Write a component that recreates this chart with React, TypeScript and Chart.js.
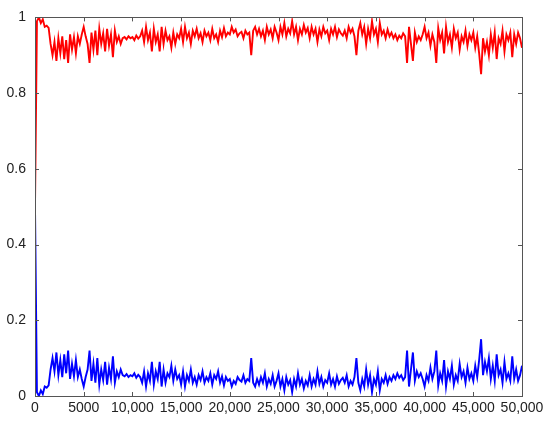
import React, { useEffect, useRef } from "react";
import { Chart, registerables } from "chart.js";

Chart.register(...registerables);

const STEP = 200;

const redValues: number[] = [
  0.5, 0.99, 1.0, 0.985, 0.995, 0.975, 0.978, 0.972, 0.93, 0.9, 0.935, 0.885, 0.945, 0.905, 0.95, 0.89, 0.94, 0.88, 0.955, 0.915, 0.948, 0.905, 0.95, 0.93, 0.955,
  0.975, 0.95, 0.93, 0.88, 0.96, 0.915, 0.965, 0.9, 0.97, 0.93, 0.958, 0.91, 0.97, 0.925, 0.955, 0.895, 0.965, 0.935, 0.95, 0.93, 0.945, 0.948, 0.942, 0.95, 0.945,
  0.948, 0.94, 0.952, 0.944, 0.95, 0.965, 0.935, 0.975, 0.94, 0.96, 0.91, 0.97, 0.935, 0.955, 0.91, 0.975, 0.93, 0.965, 0.94, 0.95, 0.92, 0.96, 0.93, 0.955, 0.945,
  0.97, 0.935, 0.975, 0.945, 0.96, 0.93, 0.965, 0.95, 0.97, 0.945, 0.958, 0.935, 0.965, 0.95, 0.96, 0.94, 0.97, 0.945, 0.955, 0.935, 0.965, 0.948, 0.972, 0.95, 0.96,
  0.955, 0.975, 0.96, 0.968, 0.95, 0.958, 0.962, 0.945, 0.965, 0.955, 0.96, 0.9, 0.965, 0.975, 0.955, 0.97, 0.95, 0.965, 0.94, 0.975, 0.955, 0.968, 0.945, 0.975, 0.96,
  0.94, 0.975, 0.955, 0.985, 0.95, 0.97, 0.958, 0.99, 0.955, 0.975, 0.94, 0.97, 0.955, 0.98, 0.96, 0.972, 0.945, 0.975, 0.955, 0.97, 0.935, 0.968, 0.95, 0.975, 0.958,
  0.965, 0.94, 0.97, 0.955, 0.975, 0.948, 0.968, 0.958, 0.952, 0.965, 0.945, 0.975, 0.96, 0.97, 0.95, 0.9, 0.965, 0.985, 0.955, 0.975, 0.93, 0.97, 0.945, 0.99, 0.955,
  0.97, 0.935, 0.985, 0.955, 0.965, 0.945, 0.968, 0.95, 0.96, 0.945, 0.955, 0.94, 0.952, 0.945, 0.958, 0.95, 0.88, 0.975, 0.93, 0.885, 0.96, 0.935, 0.95, 0.94, 0.955,
  0.975, 0.945, 0.96, 0.925, 0.955, 0.935, 0.88, 0.972, 0.94, 0.96, 0.905, 0.975, 0.935, 0.955, 0.92, 0.97, 0.945, 0.96, 0.915, 0.95, 0.935, 0.965, 0.925, 0.955, 0.94,
  0.96, 0.92, 0.95, 0.905, 0.85, 0.945, 0.91, 0.935, 0.9, 0.955, 0.92, 0.96, 0.89, 0.945, 0.93, 0.965, 0.91, 0.955, 0.94, 0.96, 0.895, 0.955, 0.93, 0.96, 0.945, 0.92,
];

const blueValues: number[] = [
  0.5, 0.01, 0.0, 0.015, 0.005, 0.025, 0.022, 0.028, 0.07, 0.1, 0.065, 0.115, 0.055, 0.095, 0.05, 0.11, 0.06, 0.12, 0.045, 0.085, 0.052, 0.095, 0.05, 0.07, 0.045,
  0.025, 0.05, 0.07, 0.12, 0.04, 0.085, 0.035, 0.1, 0.03, 0.07, 0.042, 0.09, 0.03, 0.075, 0.045, 0.105, 0.035, 0.065, 0.05, 0.07, 0.055, 0.052, 0.058, 0.05, 0.055,
  0.052, 0.06, 0.048, 0.056, 0.05, 0.035, 0.065, 0.025, 0.06, 0.04, 0.09, 0.03, 0.065, 0.045, 0.09, 0.025, 0.07, 0.035, 0.06, 0.05, 0.08, 0.04, 0.07, 0.045, 0.055,
  0.03, 0.065, 0.025, 0.055, 0.04, 0.07, 0.035, 0.05, 0.03, 0.055, 0.042, 0.065, 0.035, 0.05, 0.04, 0.06, 0.03, 0.055, 0.045, 0.065, 0.035, 0.052, 0.028, 0.05, 0.04,
  0.045, 0.025, 0.04, 0.032, 0.05, 0.042, 0.038, 0.055, 0.035, 0.045, 0.04, 0.1, 0.035, 0.025, 0.045, 0.03, 0.05, 0.035, 0.06, 0.025, 0.045, 0.032, 0.055, 0.025, 0.04,
  0.06, 0.025, 0.045, 0.015, 0.05, 0.03, 0.042, 0.01, 0.045, 0.025, 0.06, 0.03, 0.045, 0.02, 0.04, 0.028, 0.055, 0.025, 0.045, 0.03, 0.065, 0.032, 0.05, 0.025, 0.042,
  0.035, 0.06, 0.03, 0.045, 0.025, 0.052, 0.032, 0.042, 0.048, 0.035, 0.055, 0.025, 0.04, 0.03, 0.05, 0.1, 0.035, 0.015, 0.045, 0.025, 0.07, 0.03, 0.055, 0.01, 0.045,
  0.03, 0.065, 0.015, 0.045, 0.035, 0.055, 0.032, 0.05, 0.04, 0.055, 0.045, 0.06, 0.048, 0.055, 0.042, 0.05, 0.12, 0.025, 0.07, 0.115, 0.04, 0.065, 0.05, 0.06, 0.045,
  0.025, 0.055, 0.04, 0.075, 0.045, 0.065, 0.12, 0.028, 0.06, 0.04, 0.095, 0.025, 0.065, 0.045, 0.08, 0.03, 0.055, 0.04, 0.085, 0.05, 0.065, 0.035, 0.075, 0.045, 0.06,
  0.04, 0.08, 0.05, 0.095, 0.15, 0.055, 0.09, 0.065, 0.1, 0.045, 0.08, 0.04, 0.11, 0.055, 0.07, 0.035, 0.09, 0.045, 0.06, 0.04, 0.105, 0.045, 0.07, 0.04, 0.055, 0.08,
];

const xTicks: number[] = [0, 5000, 10000, 15000, 20000, 25000, 30000, 35000, 40000, 45000, 50000];
const yTicks: number[] = [0, 0.2, 0.4, 0.6, 0.8, 1];

const FRAME = "#555555";
const TICK_LEN = 4;

const framePlugin = {
  id: "frameTicks",
  afterDatasetsDraw(chart: any) {
    const { ctx, chartArea } = chart;
    const { left, right, top, bottom } = chartArea;
    const xs = chart.scales.x;
    const ys = chart.scales.y;
    ctx.save();
    ctx.strokeStyle = FRAME;
    ctx.lineWidth = 1;
    ctx.beginPath();
    xTicks.forEach((v) => {
      const px = Math.round(xs.getPixelForValue(v)) + 0.5;
      ctx.moveTo(px, bottom);
      ctx.lineTo(px, bottom - TICK_LEN);
      ctx.moveTo(px, top);
      ctx.lineTo(px, top + TICK_LEN);
    });
    yTicks.forEach((v) => {
      const py = Math.round(ys.getPixelForValue(v)) + 0.5;
      ctx.moveTo(left, py);
      ctx.lineTo(left + TICK_LEN, py);
      ctx.moveTo(right, py);
      ctx.lineTo(right - TICK_LEN, py);
    });
    ctx.stroke();
    ctx.strokeRect(Math.round(left) + 0.5, Math.round(top) + 0.5, Math.round(right - left), Math.round(bottom - top));
    ctx.restore();
  },
};

export default function App() {
  const ref = useRef<HTMLCanvasElement | null>(null);
  useEffect(() => {
    if (!ref.current) return;
    const labels = redValues.map((_, i) => i * STEP);
    const chart = new Chart(ref.current, {
      type: "line",
      data: {
        datasets: [
          {
            data: redValues.map((v, i) => ({ x: labels[i], y: v })),
            borderColor: "#ff0000",
            borderWidth: 1.9,
            pointRadius: 0,
            tension: 0,
            fill: false,
          },
          {
            data: blueValues.map((v, i) => ({ x: labels[i], y: v })),
            borderColor: "#0000ff",
            borderWidth: 1.9,
            pointRadius: 0,
            tension: 0,
            fill: false,
          },
        ],
      },
      options: {
        animation: false,
        responsive: false,
        maintainAspectRatio: false,
        layout: { padding: { left: 0, top: 14, right: 28, bottom: 0 } },
        plugins: { legend: { display: false }, tooltip: { enabled: false } },
        scales: {
          x: {
            type: "linear",
            min: 0,
            max: 50000,
            afterBuildTicks: (scale: any) => {
              scale.ticks = xTicks.map((v) => ({ value: v }));
            },
            afterFit: (scale: any) => {
              scale.height = 26;
            },
            grid: { display: false, drawTicks: false },
            border: { display: false },
            ticks: {
              autoSkip: false,
              maxRotation: 0,
              minRotation: 0,
              padding: 4,
              color: "#222222",
              font: { family: "'Liberation Sans', Arial, sans-serif", size: 14 },
              callback: (v: any) => {
                const n = Number(v);
                return n < 10000 ? String(n) : n.toLocaleString("en-US");
              },
            },
          },
          y: {
            type: "linear",
            min: 0,
            max: 1,
            afterBuildTicks: (scale: any) => {
              scale.ticks = yTicks.map((v) => ({ value: v }));
            },
            afterFit: (scale: any) => {
              scale.width = 35;
            },
            grid: { display: false, drawTicks: false },
            border: { display: false },
            ticks: {
              padding: 9,
              color: "#222222",
              font: { family: "'Liberation Sans', Arial, sans-serif", size: 14 },
              callback: (v: any) => String(Number(Number(v).toFixed(1))),
            },
          },
        },
      },
      plugins: [framePlugin],
    });
    return () => chart.destroy();
  }, []);
  return (
    <div style={{ position: "fixed", left: 0, top: 0, width: 550, height: 422, background: "#fff" }}>
      <canvas ref={ref} width={550} height={422} style={{ width: 550, height: 422, display: "block" }} />
    </div>
  );
}
